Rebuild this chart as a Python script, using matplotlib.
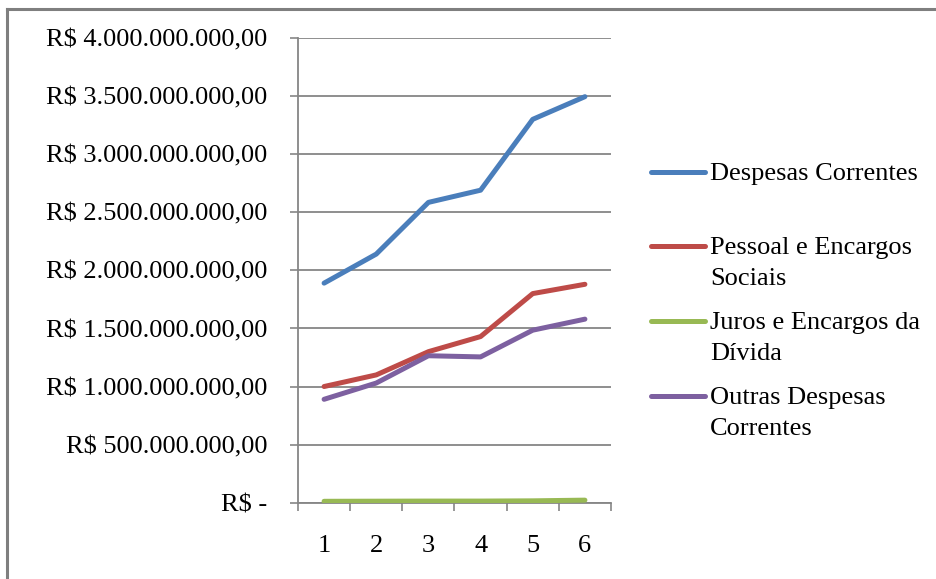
import numpy as np
import matplotlib.pyplot as plt
from matplotlib.lines import Line2D

# dados
anos = [1, 2, 3, 4, 5, 6]
despesas_correntes = [1.89e9, 2.14e9, 2.585e9, 2.69e9, 3.30e9, 3.495e9]
pessoal_encargos = [1.00e9, 1.10e9, 1.30e9, 1.43e9, 1.80e9, 1.88e9]
juros_encargos = [1.2e7, 1.3e7, 1.4e7, 1.4e7, 1.6e7, 2.2e7]
outras_despesas = [0.89e9, 1.03e9, 1.265e9, 1.255e9, 1.485e9, 1.58e9]

nomes = [["Despesas Correntes"],
         ["Pessoal e Encargos", "Sociais"],
         ["Juros e Encargos da", "Dívida"],
         ["Outras Despesas", "Correntes"]]
cores = ["#4A7EBB", "#BE4B48", "#98B954", "#7D60A0"]

y_ticks = np.arange(0, 4.01e9, 5e8)
y_labels = ["R$ -", "R$ 500.000.000,00", "R$ 1.000.000.000,00", "R$ 1.500.000.000,00",
            "R$ 2.000.000.000,00", "R$ 2.500.000.000,00", "R$ 3.000.000.000,00",
            "R$ 3.500.000.000,00", "R$ 4.000.000.000,00"]

plt.rcParams['font.family'] = ['Liberation Serif', 'DejaVu Serif']
fs = 19
grid_cor = "#868686"

fig = plt.figure(figsize=(9.37, 5.79), dpi=100)
ax = fig.add_axes([298/937, 1 - 502.7/579, (611-298)/937, (502.7-38)/579])

series = [despesas_correntes, pessoal_encargos, juros_encargos, outras_despesas]
for vals, cor in zip(series, cores):
    ax.plot(anos, vals, color=cor, lw=3.6, solid_capstyle='round', solid_joinstyle='round', zorder=3)

ax.set_xlim(0.5, 6.5)
ax.set_ylim(0, 4e9)
ax.set_yticks(y_ticks)
ax.set_yticklabels(y_labels, fontsize=fs)
ax.set_xticks(anos)
ax.set_xticklabels([str(a) for a in anos], fontsize=fs)
ax.set_xticks(np.arange(0.5, 6.6, 1), minor=True)
ax.tick_params(axis='x', which='major', length=0, pad=23)
ax.tick_params(axis='x', which='minor', length=6, width=1.2, color=grid_cor)
ax.tick_params(axis='y', length=6, width=1.2, color=grid_cor, pad=16)
ax.yaxis.grid(True, color=grid_cor, lw=1.3)
ax.set_axisbelow(True)
for s in ['top', 'right']:
    ax.spines[s].set_visible(False)
for s in ['left', 'bottom']:
    ax.spines[s].set_color(grid_cor)
    ax.spines[s].set_linewidth(1.3)

# legenda manual
y_leg = [172, 246, 321, 396]
for linhas, cor, yp in zip(nomes, cores, y_leg):
    yf = 1 - yp/579
    fig.add_artist(Line2D([651/937, 705/937], [yf, yf], color=cor, lw=3.6,
                          solid_capstyle='round', transform=fig.transFigure))
    for i, txt in enumerate(linhas):
        yb = 1 - (yp + 8 + i*31)/579
        fig.text(710/937, yb, txt, fontsize=fs, va='baseline', ha='left')

# moldura
fig.add_artist(Line2D([7/937, 1.0], [1 - 9/579, 1 - 9/579], color="#7f7f7f", lw=2.2,
                      transform=fig.transFigure))
fig.add_artist(Line2D([7/937, 7/937], [0, 1 - 9/579], color="#7f7f7f", lw=2.2,
                      transform=fig.transFigure))

fig.savefig("out.png", dpi=100)
